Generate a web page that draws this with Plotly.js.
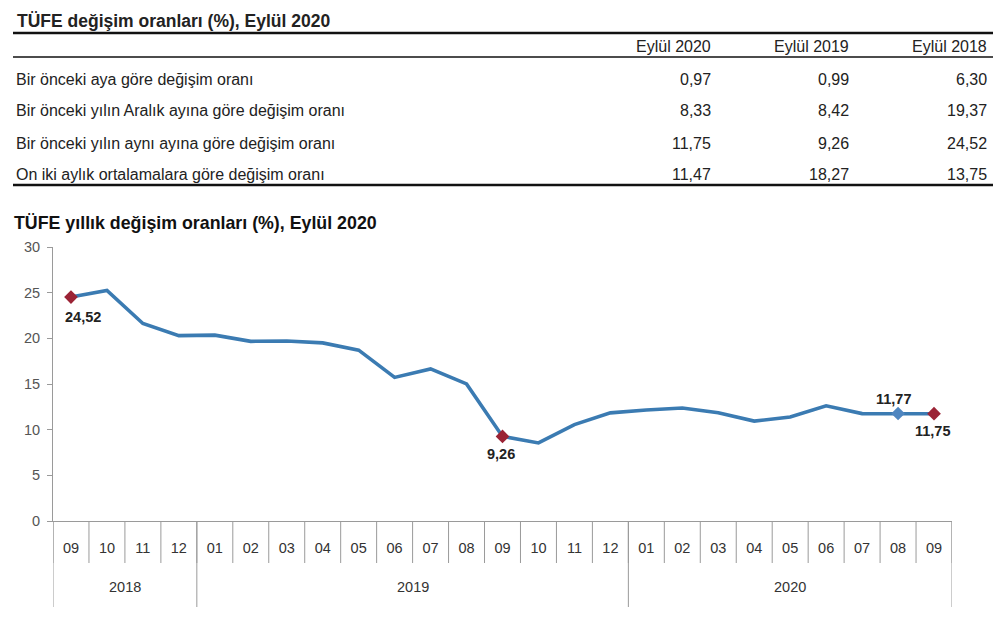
<!DOCTYPE html>
<html><head><meta charset="utf-8">
<script src="https://cdn.plot.ly/plotly-3.0.1.min.js"></script>
<style>body{margin:0;padding:0;background:#fff}#chart{width:1005px;height:620px}</style>
</head><body><div id="chart"></div>
<script>
// ---- table data ----
const tableTitle = "TÜFE değişim oranları (%), Eylül 2020";
const tableHeaders = ["Eylül 2020", "Eylül 2019", "Eylül 2018"];
const tableRows = [
  "Bir önceki aya göre değişim oranı",
  "Bir önceki yılın Aralık ayına göre değişim oranı",
  "Bir önceki yılın aynı ayına göre değişim oranı",
  "On iki aylık ortalamalara göre değişim oranı"
];
const col2020 = ["0,97", "8,33", "11,75", "11,47"];
const col2019 = ["0,99", "8,42", "9,26", "18,27"];
const col2018 = ["6,30", "19,37", "24,52", "13,75"];

// ---- chart data ----
const chartTitle = "TÜFE yıllık değişim oranları (%), Eylül 2020";
const months = ["09","10","11","12",
  "01","02","03","04","05","06","07","08","09","10","11","12",
  "01","02","03","04","05","06","07","08","09"];
const yearLabels = ["2018", "2019", "2020"];
const yearCounts = [4, 12, 9];
const yearlyRate = [24.52, 25.24, 21.62, 20.30,
  20.35, 19.67, 19.71, 19.50, 18.71, 15.72, 16.65, 15.01, 9.26, 8.55, 10.56, 11.84,
  12.15, 12.37, 11.86, 10.94, 11.39, 12.62, 11.76, 11.77, 11.75];
const redIdx = [0, 12, 24];
const blueIdx = [23];
const labelText = ["24,52", "9,26", "11,77", "11,75"];
const labelIdx = [0, 12, 23, 24];

// layout geometry helpers (pixels -> paper)
const L = 53, R = 952, T = 247, B = 521;
const px = x => (x - L) / (R - L);
const py = y => (B - y) / (B - T);

const font = "Liberation Sans, Arial, sans-serif";
const idx = months.map((m, i) => i);

const traces = [
  {x: idx, y: yearlyRate, type: "scatter", mode: "lines",
   line: {color: "#3B7BB2", width: 3.6}, hoverinfo: "skip"},
  {x: redIdx, y: redIdx.map(i => yearlyRate[i]), type: "scatter", mode: "markers",
   marker: {symbol: "diamond", color: "#9B2335", size: 10.5}},
  {x: blueIdx, y: blueIdx.map(i => yearlyRate[i]), type: "scatter", mode: "markers",
   marker: {symbol: "diamond", color: "#4F86C0", size: 10.5}}
];

const ann = [];
const shapes = [];
const tblFont = {family: font, size: 16, color: "#222"};
// table title
ann.push({text: "<b>" + tableTitle + "</b>", xref: "paper", yref: "paper", x: px(15), y: py(21),
  xanchor: "left", yanchor: "middle", showarrow: false, font: {family: font, size: 17.5, color: "#222"}});
// headers
const colRight = [713, 851, 989];
tableHeaders.forEach((h, i) => ann.push({text: h, xref: "paper", yref: "paper", x: px(colRight[i]), y: py(46),
  xanchor: "right", yanchor: "middle", showarrow: false, font: tblFont}));
const rowY = [79, 111, 143, 174];
const cols = [col2020, col2019, col2018];
tableRows.forEach((r, j) => {
  ann.push({text: r, xref: "paper", yref: "paper", x: px(14), y: py(rowY[j]),
    xanchor: "left", yanchor: "middle", showarrow: false, font: tblFont});
  cols.forEach((c, i) => ann.push({text: c[j], xref: "paper", yref: "paper", x: px(colRight[i]), y: py(rowY[j]),
    xanchor: "right", yanchor: "middle", showarrow: false, font: tblFont}));
});
// table lines
[[33, 2.5], [57, 1.5], [185, 2.5]].forEach(([y, w]) => shapes.push({type: "line", xref: "paper", yref: "paper",
  x0: px(13), x1: px(993), y0: py(y), y1: py(y), line: {color: "#111", width: w}}));
// chart title
ann.push({text: "<b>" + chartTitle + "</b>", xref: "paper", yref: "paper", x: px(12), y: py(223),
  xanchor: "left", yanchor: "middle", showarrow: false, font: {family: font, size: 17.8, color: "#111"}});
// data labels
const shifts = [[12, -20], [-2, -18], [-4, 15], [-1, -17]];
labelIdx.forEach((i, k) => ann.push({text: "<b>" + labelText[k] + "</b>", xref: "x", yref: "y",
  x: i, y: yearlyRate[i], xshift: shifts[k][0], yshift: shifts[k][1], showarrow: false,
  xanchor: "center", yanchor: "middle", font: {family: font, size: 14.5, color: "#222"}}));

// month boundary ticks
const gridCol = "#9a9a9a";
for (let i = 0; i <= months.length; i++) {
  shapes.push({type: "line", xref: "x", yref: "paper", x0: i - 0.5, x1: i - 0.5,
    y0: 0, y1: py(563), line: {color: gridCol, width: 1}});
}
// year groups: dividers and labels
let start = 0;
yearLabels.forEach((yl, k) => {
  const end = start + yearCounts[k];
  shapes.push({type: "line", xref: "x", yref: "paper", x0: start - 0.5, x1: start - 0.5,
    y0: 0, y1: py(607), line: {color: gridCol, width: 1}});
  if (k === yearLabels.length - 1) {
    shapes.push({type: "line", xref: "x", yref: "paper", x0: end - 0.5, x1: end - 0.5,
      y0: 0, y1: py(607), line: {color: gridCol, width: 1}});
  }
  ann.push({text: yl, xref: "x", yref: "paper", x: (start + end - 1) / 2, y: py(587),
    xanchor: "center", yanchor: "middle", showarrow: false, font: {family: font, size: 14.5, color: "#333"}});
  start = end;
});

const layout = {
  width: 1005, height: 620,
  margin: {l: L, r: 1005 - R, t: T, b: 620 - B, pad: 0},
  paper_bgcolor: "#fff", plot_bgcolor: "#fff",
  showlegend: false,
  font: {family: font, color: "#444"},
  xaxis: {range: [-0.5, months.length - 0.5], tickmode: "array", tickvals: idx, ticktext: months,
    showline: true, linecolor: gridCol, linewidth: 1,
    ticks: "outside", ticklen: 14, tickcolor: "rgba(0,0,0,0)",
    showgrid: false, zeroline: false, tickfont: {family: font, size: 14.5, color: "#333"}},
  yaxis: {range: [0, 30], dtick: 5, showline: true, linecolor: gridCol, linewidth: 1,
    ticks: "outside", ticklen: 5, tickcolor: gridCol, showgrid: false, zeroline: false,
    ticklabelstandoff: 4,
    tickfont: {family: font, size: 14.5, color: "#555"}},
  annotations: ann,
  shapes: shapes
};
Plotly.newPlot("chart", traces, layout, {staticPlot: true});
</script></body></html>
